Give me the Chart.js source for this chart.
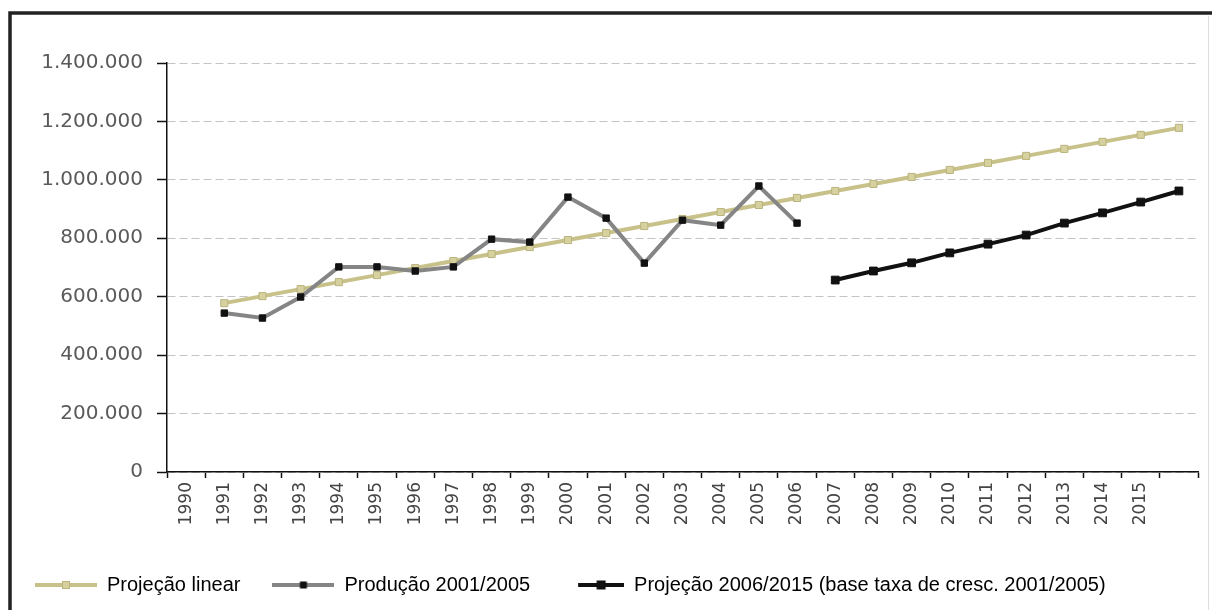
<!DOCTYPE html>
<html>
<head>
<meta charset="utf-8">
<script src="https://cdn.jsdelivr.net/npm/chart.js@4"></script>
<style>
  html, body { margin: 0; padding: 0; background: #fff; }
  #wrap { width: 1212px; height: 610px; }
</style>
</head>
<body>
<div id="wrap"><canvas id="chart" width="1212" height="610"></canvas></div>
<script>
// categories (last band has no label in the original)
const years = ['1990', '1991', '1992', '1993', '1994', '1995', '1996', '1997', '1998', '1999',
  '2000', '2001', '2002', '2003', '2004', '2005', '2006', '2007', '2008', '2009',
  '2010', '2011', '2012', '2013', '2014', '2015', ''];

const projLinear = [null, 578000, 602000, 626000, 650000, 674000, 698000, 722000, 746000, 770000,
  794000, 818000, 842000, 866000, 890000, 914000, 938000, 962000, 986000, 1010000,
  1034000, 1058000, 1082000, 1106000, 1130000, 1154000, 1178000];

const producao = [null, 544000, 527000, 599000, 702000, 702000, 688000, 702000, 797000, 787000,
  941000, 869000, 715000, 862000, 845000, 979000, 852000];

const projecao = [null, null, null, null, null, null, null, null, null, null,
  null, null, null, null, null, null, null, 657000, 688000, 716000,
  750000, 780000, 811000, 852000, 887000, 924000, 962000];

const yTicks = [0, 200000, 400000, 600000, 800000, 1000000, 1200000, 1400000];

const seriesNames = ['Projeção linear', 'Produção 2001/2005', 'Projeção 2006/2015 (base taxa de cresc. 2001/2005)'];

const fmt = v => String(v).replace(/\B(?=(\d{3})+(?!\d))/g, '.');

function legendMark(lineColor, markFill, markStroke, side, lineLen) {
  const c = document.createElement('canvas');
  c.width = 62; c.height = 14;
  const g = c.getContext('2d');
  g.strokeStyle = lineColor;
  g.lineWidth = 4;
  g.beginPath();
  g.moveTo(62 - lineLen, 7);
  g.lineTo(62, 7);
  g.stroke();
  const cx = 62 - lineLen / 2;
  g.fillStyle = markFill;
  g.fillRect(cx - side / 2, 7 - side / 2, side, side);
  g.strokeStyle = markStroke;
  g.lineWidth = 1;
  g.strokeRect(cx - side / 2, 7 - side / 2, side, side);
  return c;
}

const marks = [
  legendMark('#c8c28a', '#d6d19e', '#b9b37c', 7, 62),
  legendMark('#858585', '#111', '#111', 6, 62),
  legendMark('#111', '#111', '#111', 8, 46)
];

const framePlugin = {
  id: 'frame',
  beforeDraw(chart) {
    const ctx = chart.ctx;
    ctx.save();
    ctx.fillStyle = '#fff';
    ctx.fillRect(0, 0, chart.width, chart.height);
    ctx.strokeStyle = '#222';
    ctx.lineWidth = 3.5;
    ctx.beginPath();
    ctx.moveTo(10, chart.height);
    ctx.lineTo(10, 13);
    ctx.lineTo(chart.width, 13);
    ctx.stroke();
    ctx.strokeStyle = '#ddd';
    ctx.lineWidth = 1;
    ctx.beginPath();
    ctx.moveTo(1208.5, 16);
    ctx.lineTo(1208.5, chart.height);
    ctx.stroke();
    ctx.restore();
  }
};

new Chart(document.getElementById('chart'), {
  type: 'line',
  data: {
    labels: years,
    datasets: [{
      label: seriesNames[0],
      data: projLinear,
      borderColor: '#c8c28a',
      borderWidth: 4,
      pointStyle: 'rect',
      pointRadius: 5,
      pointBackgroundColor: '#d6d19e',
      pointBorderColor: '#b9b37c',
      pointBorderWidth: 1,
      tension: 0,
      order: 2
    }, {
      label: seriesNames[1],
      data: producao,
      borderColor: '#858585',
      borderWidth: 4,
      pointStyle: 'rect',
      pointRadius: 4.5,
      pointBackgroundColor: '#111',
      pointBorderColor: '#111',
      pointBorderWidth: 1,
      tension: 0,
      order: 1
    }, {
      label: seriesNames[2],
      data: projecao,
      borderColor: '#111',
      borderWidth: 4,
      pointStyle: 'rect',
      pointRadius: 5.5,
      pointBackgroundColor: '#111',
      pointBorderColor: '#111',
      pointBorderWidth: 1,
      tension: 0,
      order: 0
    }]
  },
  options: {
    responsive: false,
    animation: false,
    layout: {
      padding: { left: 3, right: 14, top: 63, bottom: 5 }
    },
    plugins: {
      tooltip: { enabled: false },
      legend: {
        position: 'bottom',
        align: 'start',
        labels: {
          usePointStyle: true,
          pointStyleWidth: 62,
          padding: 32,
          color: '#333',
          font: { family: "'Liberation Sans', Arial, sans-serif", size: 20 },
          generateLabels: () => seriesNames.map((name, i) => ({
            text: name,
            pointStyle: marks[i],
            fillStyle: 'transparent',
            strokeStyle: 'transparent',
            lineWidth: 0,
            hidden: false,
            datasetIndex: i
          }))
        }
      }
    },
    scales: {
      x: {
        type: 'category',
        offset: true,
        afterFit: s => { s.height = 71; },
        grid: {
          offset: true,
          drawOnChartArea: false,
          drawTicks: true,
          tickLength: 6,
          tickColor: '#111',
          tickWidth: 1.5
        },
        border: { display: true, color: '#111', width: 1.5 },
        ticks: {
          autoSkip: false,
          maxRotation: 90,
          minRotation: 90,
          padding: 4,
          color: '#444',
          font: { family: "'DejaVu Sans', sans-serif", size: 17 }
        }
      },
      y: {
        min: 0,
        max: 1400000,
        afterFit: s => { s.width = 164; },
        afterBuildTicks: s => { s.ticks = yTicks.map(v => ({ value: v })); },
        grid: {
          color: '#c4c4c4',
          lineWidth: 1,
          drawTicks: true,
          tickLength: 10,
          tickColor: '#111',
          tickWidth: 1.5,
          tickBorderDash: []
        },
        border: { display: true, color: '#111', width: 1.5, dash: [8, 4] },
        ticks: {
          padding: 14,
          color: '#5a5a5a',
          font: { family: "'DejaVu Sans', sans-serif", size: 20 },
          callback: v => fmt(v)
        }
      }
    }
  },
  plugins: [framePlugin]
});
</script>
</body>
</html>
